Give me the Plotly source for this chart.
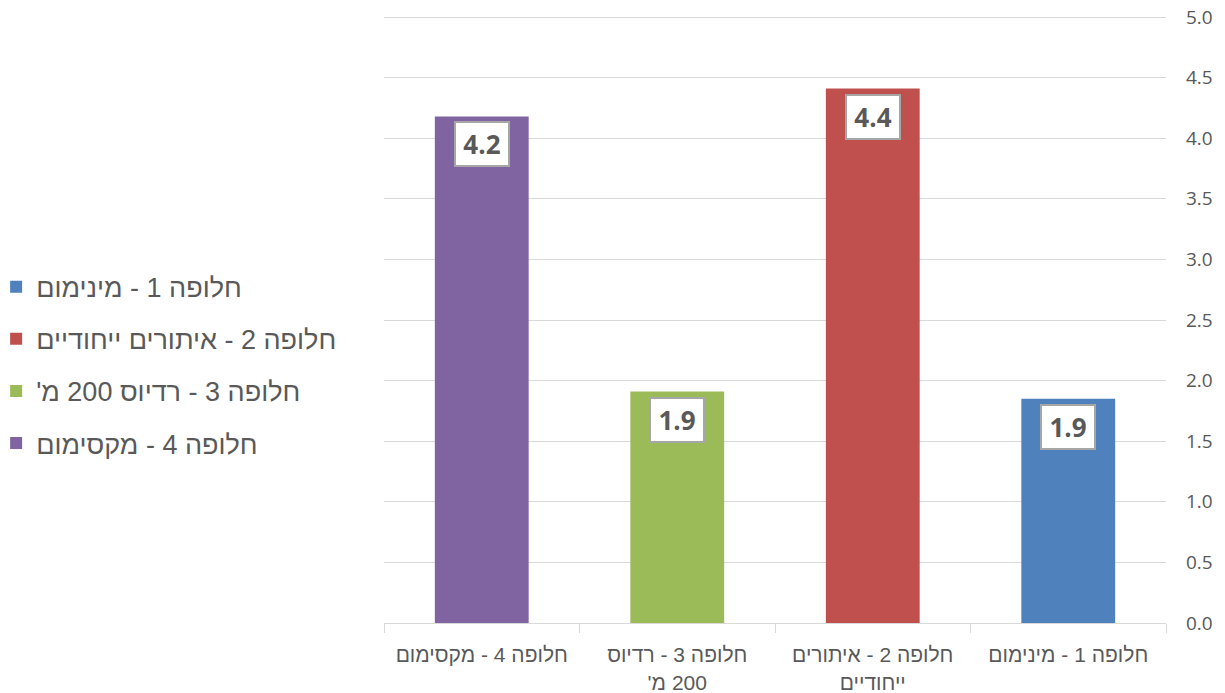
import plotly.graph_objects as go

# ---- data ----
categories = ["חלופה 1 - מינימום", "חלופה 2 - איתורים ייחודיים",
              "חלופה 3 - רדיוס 200 מ'", "חלופה 4 - מקסימום"]
axis_labels = [["חלופה 1 - מינימום"], ["חלופה 2 - איתורים", "ייחודיים"],
               ["חלופה 3 - רדיוס", "200 מ'"], ["חלופה 4 - מקסימום"]]
values = [1.85, 4.41, 1.91, 4.18]
colors = ["#4F81BD", "#C0504D", "#9BBB59", "#8064A2"]
y_ticks = [0, 0.5, 1.0, 1.5, 2.0, 2.5, 3.0, 3.5, 4.0, 4.5, 5.0]

RLM = "\u200f"


def rtl(s):
    return RLM + s + RLM


cat_keys = [rtl(c) for c in categories]
tick_text = ["<br>".join(rtl(line) for line in lines) for lines in axis_labels]

fig = go.Figure()
for i, (c, v, col) in enumerate(zip(cat_keys, values, colors)):
    fig.add_trace(go.Bar(
        x=[c], y=[v], name=c, marker=dict(color=col, line=dict(width=0)),
        width=0.48, legendgroup=f"g{i}", hoverinfo="skip",
    ))

for c, v in zip(cat_keys, values):
    fig.add_annotation(
        x=c, y=v, xref="x", yref="y", text=f"<b>{v:.1f}</b>",
        showarrow=False, yanchor="top", yshift=-5,
        font=dict(family="Open Sans, sans-serif", size=26, color="#595959"),
        bgcolor="white", bordercolor="#A6A6A6", borderwidth=2, borderpad=2,
        width=48, height=38,
    )

fig.update_layout(
    width=1225, height=693,
    margin=dict(l=384, r=59, t=15, b=70, autoexpand=False),
    paper_bgcolor="white", plot_bgcolor="white",
    barmode="overlay",
    showlegend=True,
    legend=dict(
        x=-0.496, xanchor="left", y=0.424, yanchor="middle",
        font=dict(family="Liberation Sans, Arial, sans-serif", size=27, color="#595959"),
        tracegroupgap=14, bgcolor="rgba(0,0,0,0)",
    ),
    xaxis=dict(
        type="category", categoryorder="array", categoryarray=cat_keys,
        autorange="reversed",
        tickvals=cat_keys, ticktext=tick_text, tickangle=0,
        tickson="boundaries", ticks="outside", ticklen=9, tickcolor="#D9D9D9",
        showline=True, linecolor="#D9D9D9", linewidth=1,
        showgrid=False, ticklabelstandoff=13,
        tickfont=dict(family="Liberation Sans, Arial, sans-serif",
                      size=21, color="#595959"),
    ),
    yaxis=dict(
        side="right", range=[0, 5.0165], tickvals=y_ticks, tickformat=".1f",
        showgrid=True, gridcolor="#D9D9D9", gridwidth=1,
        zeroline=False, showline=False, ticks="",
        ticklabelstandoff=19,
        tickfont=dict(family="Open Sans, sans-serif", size=19, color="#595959"),
    ),
)

fig.write_html("out.html", config={"displayModeBar": False},
               post_script="document.body.style.margin='0';")
